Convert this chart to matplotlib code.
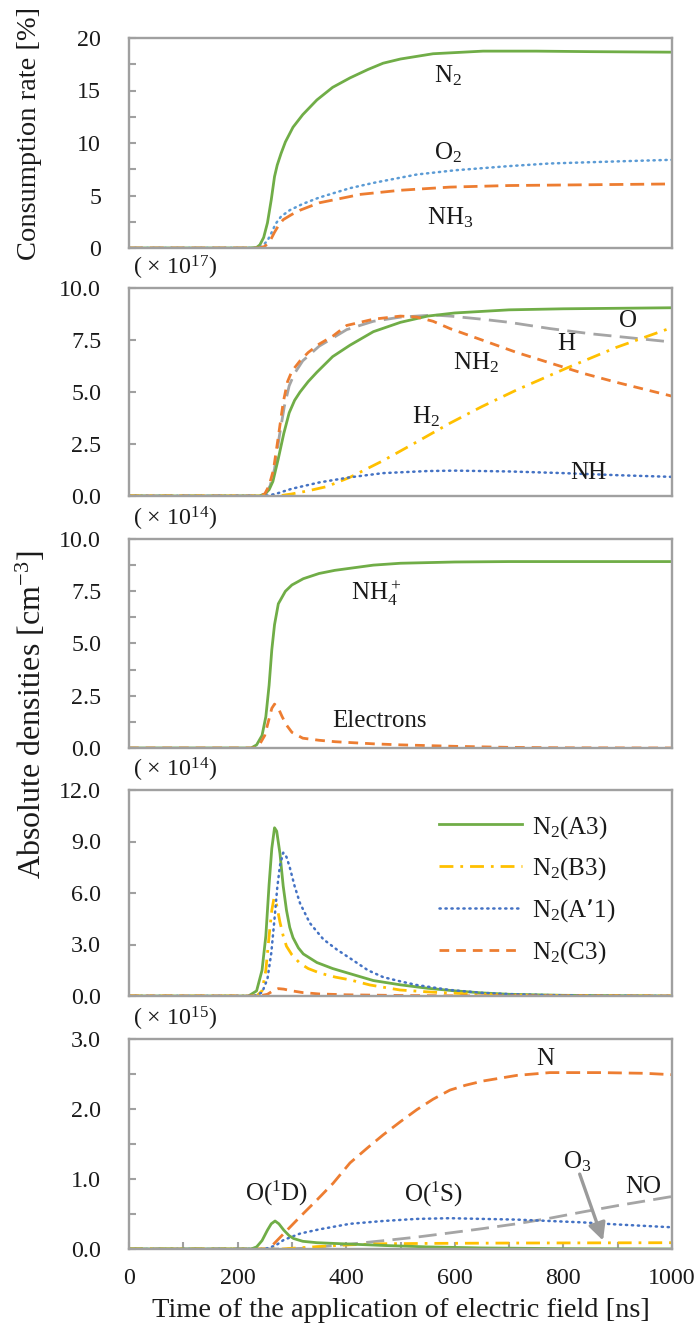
import matplotlib
matplotlib.use("Agg")
import matplotlib.pyplot as plt
from matplotlib.ticker import MultipleLocator, FormatStrFormatter, NullLocator

plt.rcParams['font.family'] = ['Liberation Serif', 'DejaVu Serif']
plt.rcParams['mathtext.default'] = 'regular'
plt.rcParams['lines.scale_dashes'] = False

# ---------------- data ----------------
# Panel 1: consumption rate [%]
n2_t = [0, 220, 235, 241, 248, 255, 262, 268, 273, 280, 288, 302, 320, 346, 375, 407, 440, 468, 500, 560, 652, 750, 850, 1000]
n2_v = [0, 0, 0.05, 0.3, 1.0, 2.4, 4.6, 6.8, 7.9, 9.0, 10.1, 11.5, 12.7, 14.1, 15.3, 16.2, 17.0, 17.6, 18.0, 18.5, 18.75, 18.75, 18.7, 18.65]
o2_t = [0, 235, 245, 255, 262, 270, 280, 296, 320, 350, 407, 450, 530, 600, 700, 775, 900, 1000]
o2_v = [0, 0, 0.15, 0.7, 1.4, 2.3, 3.0, 3.6, 4.2, 4.8, 5.7, 6.2, 7.0, 7.4, 7.8, 8.05, 8.25, 8.4]
nh3_t = [0, 240, 250, 260, 268, 276, 284, 300, 315, 350, 407, 425, 500, 591, 700, 800, 900, 1000]
nh3_v = [0, 0, 0.15, 0.7, 1.5, 2.2, 2.7, 3.2, 3.6, 4.3, 4.9, 5.1, 5.5, 5.8, 5.95, 6.0, 6.05, 6.1]

# Panel 2: neutral species (x 1e17 cm^-3)
p2_green_t = [0, 240, 250, 258, 265, 275, 285, 295, 305, 315, 330, 346, 375, 407, 450, 500, 550, 600, 700, 800, 1000]
p2_green_v = [0, 0, 0.1, 0.3, 0.7, 1.8, 3.0, 4.0, 4.6, 5.0, 5.5, 5.95, 6.7, 7.25, 7.9, 8.35, 8.65, 8.8, 8.95, 9.0, 9.05]
nh2_t = [0, 240, 250, 258, 266, 275, 284, 292, 300, 315, 330, 350, 376, 401, 450, 500, 530, 560, 591, 650, 714, 775, 836, 900, 1000]
nh2_v = [0, 0, 0.1, 0.5, 1.25, 2.85, 4.5, 5.5, 6.0, 6.5, 6.9, 7.3, 7.7, 8.2, 8.5, 8.65, 8.6, 8.4, 8.05, 7.5, 6.9, 6.4, 5.9, 5.45, 4.8]
o_t = [0, 242, 252, 260, 268, 277, 286, 295, 305, 320, 350, 401, 450, 500, 530, 560, 591, 650, 700, 775, 850, 982, 1000]
o_v = [0, 0, 0.1, 0.5, 1.3, 2.9, 4.3, 5.3, 5.9, 6.5, 7.2, 8.0, 8.4, 8.6, 8.65, 8.7, 8.65, 8.5, 8.35, 8.05, 7.8, 7.45, 7.4]
h2_t = [0, 260, 280, 300, 330, 364, 407, 468, 530, 591, 650, 714, 806, 898, 1000]
h2_v = [0, 0, 0.02, 0.1, 0.25, 0.45, 0.9, 1.7, 2.6, 3.5, 4.3, 5.1, 6.15, 7.15, 8.1]
nh_t = [0, 250, 270, 300, 350, 407, 468, 550, 600, 700, 800, 900, 1000]
nh_v = [0, 0, 0.1, 0.35, 0.65, 0.9, 1.1, 1.2, 1.22, 1.18, 1.1, 1.0, 0.92]

# Panel 3: charged species (x 1e14 cm^-3)
nh4_t = [0, 225, 235, 245, 252, 258, 263, 268, 275, 288, 300, 321, 350, 379, 450, 500, 600, 700, 1000]
nh4_v = [0, 0, 0.15, 0.6, 1.5, 3.0, 4.7, 5.9, 6.9, 7.5, 7.8, 8.1, 8.35, 8.5, 8.75, 8.84, 8.9, 8.92, 8.92]
el_t = [0, 230, 240, 250, 258, 263, 268, 275, 282, 290, 300, 320, 350, 380, 450, 500, 600, 700, 800, 1000]
el_v = [0, 0, 0.15, 0.6, 1.4, 1.9, 2.1, 1.9, 1.5, 1.1, 0.75, 0.47, 0.37, 0.3, 0.2, 0.15, 0.08, 0.03, 0.01, 0]

# Panel 4: excited nitrogen states (x 1e14 cm^-3)
a3_t = [0, 220, 235, 245, 252, 258, 263, 268, 272, 278, 284, 290, 296, 302, 312, 321, 346, 375, 407, 450, 500, 550, 600, 650, 700, 800, 1000]
a3_v = [0, 0, 0.3, 1.5, 3.5, 6.5, 8.6, 9.8, 9.6, 8.3, 6.4, 5.0, 4.0, 3.4, 2.8, 2.45, 1.95, 1.6, 1.3, 0.9, 0.65, 0.45, 0.3, 0.18, 0.1, 0.04, 0]
b3_t = [0, 235, 245, 252, 258, 263, 267, 272, 278, 284, 290, 300, 315, 330, 352, 380, 407, 444, 499, 550, 591, 650, 700, 800, 1000]
b3_v = [0, 0, 0.3, 1.5, 3.5, 5.0, 5.7, 5.3, 4.3, 3.5, 2.9, 2.4, 1.9, 1.6, 1.33, 1.1, 0.94, 0.64, 0.35, 0.24, 0.17, 0.09, 0.05, 0.02, 0]
a1_t = [0, 230, 245, 255, 262, 268, 273, 278, 284, 290, 296, 305, 315, 333, 358, 383, 407, 440, 468, 500, 530, 591, 652, 700, 775, 850, 1000]
a1_v = [0, 0, 0.2, 1.0, 2.5, 4.5, 6.3, 7.6, 8.35, 8.1, 7.5, 6.4, 5.4, 4.25, 3.3, 2.7, 2.2, 1.5, 1.1, 0.85, 0.64, 0.35, 0.18, 0.11, 0.05, 0.02, 0]
c3_t = [0, 240, 255, 265, 275, 285, 300, 320, 350, 400, 500, 600, 1000]
c3_v = [0, 0, 0.1, 0.3, 0.43, 0.4, 0.3, 0.2, 0.12, 0.07, 0.03, 0.01, 0]

# Panel 5: atomic and minor species (x 1e15 cm^-3)
n_t = [0, 255, 265, 285, 315, 346, 376, 407, 440, 468, 500, 530, 560, 591, 620, 652, 714, 775, 867, 950, 1000]
n_v = [0, 0, 0.06, 0.22, 0.46, 0.7, 0.94, 1.23, 1.45, 1.63, 1.82, 1.99, 2.14, 2.27, 2.34, 2.4, 2.48, 2.52, 2.52, 2.51, 2.49]
o1s_t = [0, 250, 270, 285, 315, 350, 407, 468, 530, 591, 650, 714, 775, 836, 900, 1000]
o1s_v = [0, 0, 0.05, 0.13, 0.22, 0.28, 0.36, 0.4, 0.43, 0.44, 0.43, 0.42, 0.4, 0.38, 0.35, 0.31]
o1d_t = [0, 225, 235, 245, 255, 262, 269, 276, 285, 295, 303, 320, 346, 407, 470, 550, 650, 800, 1000]
o1d_v = [0, 0, 0.03, 0.12, 0.27, 0.36, 0.4, 0.36, 0.27, 0.19, 0.15, 0.11, 0.09, 0.07, 0.05, 0.03, 0.015, 0.005, 0]
no_t = [0, 290, 320, 350, 407, 470, 530, 591, 650, 714, 775, 836, 900, 1000]
no_v = [0, 0, 0.01, 0.03, 0.07, 0.12, 0.17, 0.23, 0.29, 0.36, 0.44, 0.53, 0.62, 0.75]
o3_t = [0, 280, 320, 360, 407, 470, 550, 700, 1000]
o3_v = [0, 0, 0.02, 0.04, 0.06, 0.075, 0.08, 0.085, 0.09]

legend_labels = ['N$_2$(A3)', 'N$_2$(B3)', 'N$_2$(A’1)', 'N$_2$(C3)']

# ---------------- styles ----------------
GREEN = '#70AD47'
ORANGE = '#ED7D31'
GRAY = '#A5A5A5'
YELLOW = '#FFC000'
BLUE = '#4472C4'
LBLUE = '#5B9BD5'
SPINE = '#A0A0A0'
TXT = '#1a1a1a'
LW = 2.0
TICK_FS = 17.3
LBL_FS = 18

solid = dict(linestyle='-', lw=LW)
dotted = dict(linestyle=(0, (0.9, 3.4)), lw=1.8, dash_capstyle='round')
dash_short = dict(linestyle=(0, (7, 5)), lw=LW)
dash_mid = dict(linestyle=(0, (10, 5)), lw=LW)
dash_long = dict(linestyle=(0, (13, 6)), lw=LW)
dashdot = dict(linestyle=(0, (10, 5, 2, 5)), lw=LW)

W, H = 700, 1329
fig = plt.figure(figsize=(W / 100, H / 100), dpi=100)

def make_axes(top, bottom, left=129, right=672):
    return fig.add_axes([left / W, 1 - bottom / H, (right - left) / W, (bottom - top) / H])

def style(ax, ymax, major, minor, fmt, xticks=False):
    ax.set_xlim(0, 1000)
    ax.set_ylim(0, ymax)
    for s in ax.spines.values():
        s.set_color(SPINE)
        s.set_linewidth(1.7)
    ax.yaxis.set_major_locator(MultipleLocator(major))
    if minor:
        ax.yaxis.set_minor_locator(MultipleLocator(minor))
    ax.yaxis.set_major_formatter(FormatStrFormatter(fmt))
    ax.tick_params(axis='y', which='both', direction='in', length=5, width=1.5,
                   color=SPINE, labelsize=TICK_FS, labelcolor=TXT, pad=20)
    if xticks:
        ax.xaxis.set_major_locator(MultipleLocator(200))
        ax.xaxis.set_minor_locator(MultipleLocator(100))
        ax.tick_params(axis='x', which='both', direction='in', length=5, width=1.5,
                       color=SPINE, labelsize=TICK_FS, labelcolor=TXT, pad=14)
    else:
        ax.xaxis.set_major_locator(NullLocator())
        ax.xaxis.set_minor_locator(NullLocator())

def multiplier(ax, text):
    ax.annotate(text, xy=(0, 1), xycoords='axes fraction', xytext=(3, 9.5),
                textcoords='offset points', ha='left', va='baseline',
                fontsize=TICK_FS, color=TXT)

LBL = dict(fontsize=LBL_FS, color=TXT, ha='center', va='center')

# Panel 1
ax1 = make_axes(38, 248)
ax1.plot(n2_t, n2_v, color=GREEN, **solid)
ax1.plot(o2_t, o2_v, color=LBLUE, **dotted)
ax1.plot(nh3_t, nh3_v, color=ORANGE, **dash_mid)
style(ax1, 20, 5, 2.5, '%d')
ax1.text(587, 16.4, 'N$_2$', **LBL)
ax1.text(587, 9.1, 'O$_2$', **LBL)
ax1.text(592, 2.9, 'NH$_3$', **LBL)

# Panel 2
ax2 = make_axes(288, 496)
ax2.plot(o_t, o_v, color=GRAY, **dash_long)
ax2.plot(p2_green_t, p2_green_v, color=GREEN, **solid)
ax2.plot(nh2_t, nh2_v, color=ORANGE, **dash_short)
ax2.plot(h2_t, h2_v, color=YELLOW, **dashdot)
ax2.plot(nh_t, nh_v, color=BLUE, **dotted)
style(ax2, 10, 2.5, None, '%.1f')
multiplier(ax2, '( × 10$^{17}$)')
ax2.text(640, 6.4, 'NH$_2$', **LBL)
ax2.text(805, 7.3, 'H', **LBL)
ax2.text(919, 8.4, 'O', **LBL)
ax2.text(547, 3.8, 'H$_2$', **LBL)
ax2.text(845, 1.1, 'NH', **LBL)

# Panel 3
ax3 = make_axes(539, 748)
ax3.plot(nh4_t, nh4_v, color=GREEN, **solid)
ax3.plot(el_t, el_v, color=ORANGE, **dash_short)
style(ax3, 10, 2.5, 1.25, '%.1f')
multiplier(ax3, '( × 10$^{14}$)')
ax3.text(455, 7.4, 'NH$_4^+$', **LBL)
ax3.text(462, 1.3, 'Electrons', **LBL)

# Panel 4
ax4 = make_axes(790, 996)
l1, = ax4.plot(a3_t, a3_v, color=GREEN, **solid)
l2, = ax4.plot(b3_t, b3_v, color=YELLOW, **dashdot)
l3, = ax4.plot(a1_t, a1_v, color=BLUE, **dotted)
l4, = ax4.plot(c3_t, c3_v, color=ORANGE, **dash_short)
style(ax4, 12, 3, None, '%.1f')
multiplier(ax4, '( × 10$^{14}$)')
ax4.legend([l1, l2, l3, l4], legend_labels, loc='upper left',
           bbox_to_anchor=(0.571, 0.885), frameon=False, fontsize=LBL_FS,
           handlelength=3.3, handletextpad=0.4, labelspacing=0.6,
           borderpad=0, borderaxespad=0, labelcolor=TXT)

# Panel 5
ax5 = make_axes(1039, 1249)
ax5.plot(n_t, n_v, color=ORANGE, **dash_mid)
ax5.plot(no_t, no_v, color=GRAY, **dash_long)
ax5.plot(o1s_t, o1s_v, color=BLUE, **dotted)
ax5.plot(o3_t, o3_v, color=YELLOW, **dashdot)
ax5.plot(o1d_t, o1d_v, color=GREEN, **solid)
style(ax5, 3, 1, 0.5, '%.1f', xticks=True)
multiplier(ax5, '( × 10$^{15}$)')
ax5.text(766, 2.72, 'N', **LBL)
ax5.text(560, 0.78, 'O($^1$S)', **LBL)
ax5.text(272, 0.8, 'O($^1$D)', **LBL)
ax5.text(947, 0.88, 'NO', **LBL)
ax5.text(825, 1.25, 'O$_3$', **LBL)
ax5.annotate('', xy=(873, 0.12), xytext=(830, 1.07),
             arrowprops=dict(arrowstyle='-|>', color='#9A9A9A', lw=2.4,
                             mutation_scale=26, shrinkA=0, shrinkB=0))
ax5.set_xlabel('Time of the application of electric field [ns]', fontsize=20.5, color=TXT)
ax5.xaxis.set_label_coords(0.5, -0.235)

# Shared y-axis titles
fig.text(30 / W, 1 - 133 / H, 'Consumption rate [%]', rotation=90,
         ha='center', va='center', fontsize=20.5, color=TXT)
fig.text(31 / W, 1 - 715 / H, 'Absolute densities [cm$^{-3}$]', rotation=90,
         ha='center', va='center', fontsize=23, color=TXT)

fig.savefig('out.png', dpi=100)
